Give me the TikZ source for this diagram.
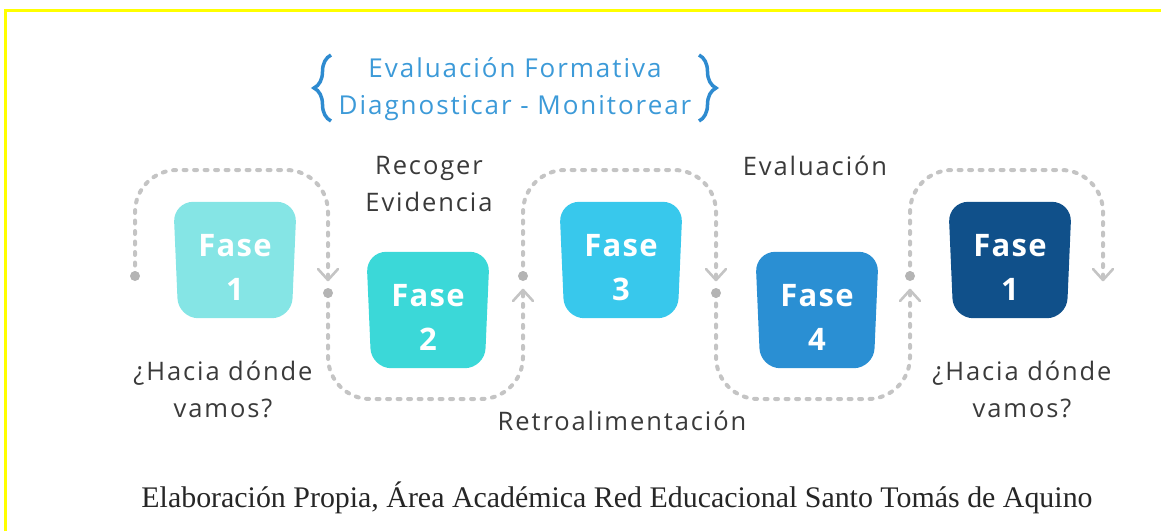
\documentclass[tikz,border=0pt]{standalone}
\usepackage{fontspec}
\setmainfont{Liberation Serif}
\newfontfamily\lblfont[LetterSpace=7.5]{Open Sans}
\newfontfamily\fasefont[LetterSpace=4]{Open Sans}
\usetikzlibrary{decorations.pathreplacing,calc}
\definecolor{cA}{HTML}{85E5E5}
\definecolor{cB}{HTML}{3BD8D8}
\definecolor{cC}{HTML}{38C8EC}
\definecolor{cD}{HTML}{2A8FD3}
\definecolor{cE}{HTML}{10508A}
\definecolor{linegray}{HTML}{C4C4C4}
\definecolor{dotgray}{HTML}{B4B4B4}
\definecolor{txtgray}{HTML}{3A3A3A}
\definecolor{capgray}{HTML}{262626}
\definecolor{topblue}{HTML}{3C9AD8}
\definecolor{braceblue}{HTML}{2E8BD0}
\definecolor{frameyellow}{HTML}{FFFF00}
\tikzset{
  fasearea/.style={rectangle, minimum width=123pt, minimum height=116pt,
    inner sep=0pt, draw=none},
  faseshape/.style={rounded corners=20pt},
  fasetext/.style={font=\fasefont\bfseries\fontsize{31}{44}\selectfont,
    text=white, align=center, inner sep=0pt},
  lbl/.style={font=\lblfont\fontsize{25.5}{37}\selectfont, text=txtgray,
    align=center, inner sep=0pt},
  toplbl/.style={font=\lblfont\fontsize{26}{37}\selectfont, text=topblue,
    align=center, inner sep=0pt},
  conn/.style={draw=linegray, line width=4pt, line cap=round,
    dash pattern=on 3pt off 7.5pt, rounded corners=42pt},
  chev/.style={draw=linegray, line width=2.6pt, line cap=round, line join=round},
  enddot/.style={circle, fill=dotgray, inner sep=0pt, minimum size=10pt},
  bracestyle/.style={draw=braceblue, line width=3.5pt,
    decorate, decoration={brace, amplitude=17pt}},
}
\newcommand\fasefill[2]{%
  \fill[faseshape, #2] (#1.north west) -- (#1.north east)
    -- ($(#1.south east)+(-5,0)$) -- ($(#1.south west)+(5,0)$) -- cycle;}
\begin{document}
\begin{tikzpicture}[x=1pt,y=-1pt]
\useasboundingbox (0,0) rectangle (1161,531);
% frame
\draw[frameyellow, line width=3pt] (5.5,531) -- (5.5,10.5) -- (1161,10.5);

% top title
\node[toplbl] (title) at (515,89) {Evaluación Formativa\\Diagnosticar - Monitorear};
\coordinate (lbA) at (331,121);
\coordinate (lbB) at (331,55);
\coordinate (rbA) at (699,55);
\coordinate (rbB) at (699,121);
\draw[bracestyle] (lbA) -- (lbB);
\draw[bracestyle] (rbA) -- (rbB);

% boxes
\node[fasearea] (f1) at (235,260) {};
\node[fasearea] (f2) at (428,310) {};
\node[fasearea] (f3) at (621,260) {};
\node[fasearea] (f4) at (817,310) {};
\node[fasearea] (f5) at (1010,260) {};
\fasefill{f1}{cA}
\fasefill{f2}{cB}
\fasefill{f3}{cC}
\fasefill{f4}{cD}
\fasefill{f5}{cE}
\node[fasetext] (t1) at ($(f1.center)+(0,7.5)$) {Fase\\1};
\node[fasetext] (t2) at ($(f2.center)+(0,7.5)$) {Fase\\2};
\node[fasetext] (t3) at ($(f3.center)+(0,7.5)$) {Fase\\3};
\node[fasetext] (t4) at ($(f4.center)+(0,7.5)$) {Fase\\4};
\node[fasetext] (t5) at ($(f5.center)+(0,7.5)$) {Fase\\1};

% connector points
\coordinate (d1) at (135,276);
\coordinate (a1) at (328,280);
\coordinate (d2) at (328,293);
\coordinate (a2) at (523,290);
\coordinate (d3) at (523,276);
\coordinate (a3) at (716,280);
\coordinate (d4) at (716,293);
\coordinate (a4) at (910,290);
\coordinate (d5) at (910,276);
\coordinate (a5) at (1103,280);

\draw[conn] (d1) -- (135,170) -- (328,170) -- (a1);
\draw[conn] (d2) -- (328,399) -- (523,399) -- (a2);
\draw[conn] (d3) -- (523,170) -- (716,170) -- (a3);
\draw[conn] (d4) -- (716,399) -- (910,399) -- (a4);
\draw[conn] (d5) -- (910,170) -- (1103,170) -- (a5);

\draw[chev] ($(a1)+(-10,-11)$) -- (a1) -- ($(a1)+(10,-11)$);
\draw[chev] ($(a2)+(-10,11)$) -- (a2) -- ($(a2)+(10,11)$);
\draw[chev] ($(a3)+(-10,-11)$) -- (a3) -- ($(a3)+(10,-11)$);
\draw[chev] ($(a4)+(-10,11)$) -- (a4) -- ($(a4)+(10,11)$);
\draw[chev] ($(a5)+(-10,-11)$) -- (a5) -- ($(a5)+(10,-11)$);

\node[enddot] (p1) at (d1) {};
\node[enddot] (p2) at (d2) {};
\node[enddot] (p3) at (d3) {};
\node[enddot] (p4) at (d4) {};
\node[enddot] (p5) at (d5) {};

% labels
\node[lbl] (l1) at (223,389) {¿Hacia dónde\\vamos?};
\node[lbl] (l2) at (429,184.5) {Recoger\\Evidencia};
\node[lbl, anchor=base] (l3) at (622,430) {Retroalimentación};
\node[lbl, anchor=base] (l4) at (815,175) {Evaluación};
\node[lbl] (l5) at (1022,389) {¿Hacia dónde\\vamos?};

% caption
\node[font=\fontsize{29.9}{31}\selectfont, text=capgray, anchor=base, inner sep=0pt]
  (cap) at (617,507) {Elaboración Propia, Área Académica Red Educacional Santo Tomás de Aquino};
\end{tikzpicture}
\end{document}
